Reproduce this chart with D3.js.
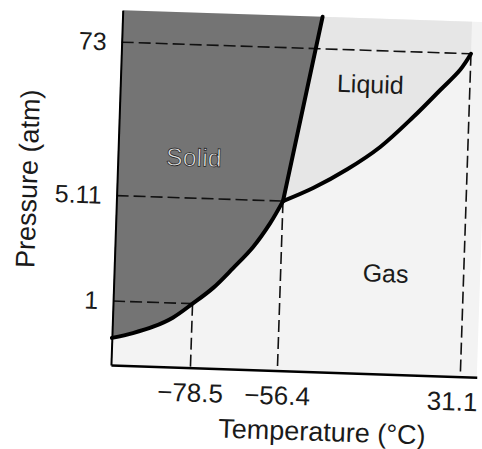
<!DOCTYPE html>
<html><head><meta charset="utf-8">
<script src="https://cdn.jsdelivr.net/npm/d3@7"></script>
<style>
body{margin:0;background:#fff;}
svg text{font-family:"Liberation Sans",Arial,Helvetica,sans-serif;}
</style></head><body>
<svg id="chart" width="482" height="449"></svg>
<script>
// ---- data ----
const xTickValues = [-78.5, -56.4, 31.1];
const xTickLabels = ["−78.5", "−56.4", "31.1"];
const yTickValues = [1, 5.11, 73];
const yTickLabels = ["1", "5.11", "73"];
const xDomain = [-98.7, -78.5, -56.4, 31.1, 39.0];
const yDomain = [0.377, 1, 5.11, 73, 127];
const sublimationT = [-98.7, -93.4, -88.3, -83.4, -78.5, -73.4, -68.5, -63.6, -59.5, -56.4];
const sublimationP = [0.57, 0.62, 0.69, 0.80, 1.0, 1.29, 1.77, 2.48, 3.6, 5.11];
const meltingT = [-56.4, -40.4];
const meltingP = [5.11, 127];
const vaporizationT = [-56.4, -42.2, -26.2, -10.8, 4.5, 17.0, 26.2, 31.1];
const vaporizationP = [5.11, 6.52, 9.2, 13.8, 23.6, 38.3, 55, 73];
const regionNames = ["Solid", "Liquid", "Gas"];
const regionT = [-79.4, -16.5, -6.2];
const regionP = [10.4, 40.9, 1.77];
const xTitle = "Temperature (°C)";
const yTitle = "Pressure (atm)";

// ---- drawing ----
const svg = d3.select("#chart");
const x = d3.scaleLinear().domain(xDomain).range([111, 190.5, 277.5, 460.5, 477]);
const y = d3.scaleLog().domain(yDomain).range([365, 301, 195.5, 42, 10]);

const g = svg.append("g").attr("transform", "rotate(1.9,111,364)");

const zip = (T, P) => T.map((t, i) => ({T: t, P: P[i]}));
const sub = zip(sublimationT, sublimationP);
const melt = zip(meltingT, meltingP);
const vap = zip(vaporizationT, vaporizationP);

const line = d3.line().x(d => x(d.T)).y(d => y(d.P)).curve(d3.curveCatmullRom.alpha(0.5));
const meltTop = melt[melt.length - 1];
const xMin = xDomain[0], xMax = xDomain[xDomain.length - 1];
const yMin = yDomain[0], yMax = yDomain[yDomain.length - 1];

// gas background
g.append("rect")
  .attr("x", x(xMin)).attr("y", y(yMax))
  .attr("width", x(xMax) - x(xMin)).attr("height", y(yMin) - y(yMax))
  .attr("fill", "#f3f3f3");

// liquid region
g.append("path")
  .attr("d", line(vap) + `L${x(vaporizationT[vaporizationT.length-1])},${y(yMax)}L${x(meltTop.T)},${y(meltTop.P)}Z`)
  .attr("fill", "#e6e6e6");

// solid region
g.append("path")
  .attr("d", line(sub) + `L${x(meltTop.T)},${y(meltTop.P)}L${x(xMin)},${y(yMax)}Z`)
  .attr("fill", "#747474");

// dashed guide lines
const guides = xTickValues.map((t, i) => ({T: t, P: yTickValues[i]}));
g.selectAll(".hguide").data(guides).join("line")
  .attr("x1", x(xMin)).attr("x2", d => x(d.T))
  .attr("y1", d => y(d.P)).attr("y2", d => y(d.P))
  .attr("stroke", "#111").attr("stroke-width", 1.6).attr("stroke-dasharray", "12,5");
g.selectAll(".vguide").data(guides).join("line")
  .attr("x1", d => x(d.T)).attr("x2", d => x(d.T))
  .attr("y1", d => y(d.P)).attr("y2", y(yMin))
  .attr("stroke", "#111").attr("stroke-width", 1.6).attr("stroke-dasharray", "12,5");

// phase boundaries
[sub, melt, vap].forEach(c => {
  g.append("path").attr("d", line(c)).attr("fill", "none")
    .attr("stroke", "#000").attr("stroke-width", 4).attr("stroke-linecap", "round");
});

// axes
const ax = g.append("g").attr("transform", `translate(0,${y(yMin)})`)
  .call(d3.axisBottom(x).tickValues(xTickValues).tickFormat((d, i) => xTickLabels[i]).tickSize(0).tickPadding(15.5));
ax.attr("font-size", 26).attr("font-family", null);
ax.select(".domain").attr("stroke", "#000").attr("stroke-width", 2.5);
ax.selectAll("text").attr("fill", "#1a1a1a");
ax.selectAll(".tick").filter(d => d === xTickValues[xTickValues.length - 1])
  .select("text").attr("dx", "-0.3em");

const ay = g.append("g").attr("transform", `translate(${x(xMin)},0)`)
  .call(d3.axisLeft(y).tickValues(yTickValues).tickFormat((d, i) => yTickLabels[i]).tickSize(0).tickPadding(15));
ay.attr("font-size", 25).attr("font-family", null);
ay.select(".domain").attr("stroke", "#000").attr("stroke-width", 2);
ay.selectAll("text").attr("fill", "#1a1a1a");

// axis titles
g.append("text").attr("x", (x(xMin) + x(xMax)) / 2 + 30).attr("y", y(yMin) + 69)
  .attr("text-anchor", "middle").attr("font-size", 27).attr("fill", "#1a1a1a").text(xTitle);
g.append("text").attr("transform", `translate(31,${(y(yMin) + y(yMax)) / 2 - 6}) rotate(-90)`)
  .attr("text-anchor", "middle").attr("font-size", 27).attr("fill", "#1a1a1a").text(yTitle);

// region labels
regionNames.forEach((name, i) => {
  const t = g.append("text").attr("x", x(regionT[i])).attr("y", y(regionP[i]))
    .attr("dy", "0.36em").attr("text-anchor", "middle").attr("font-size", 25).text(name);
  if (i === 0) t.attr("fill", "#e2e2e2").attr("stroke", "#1a1a1a").attr("stroke-width", 0.7);
  else t.attr("fill", "#1a1a1a");
});
</script>
</body></html>
